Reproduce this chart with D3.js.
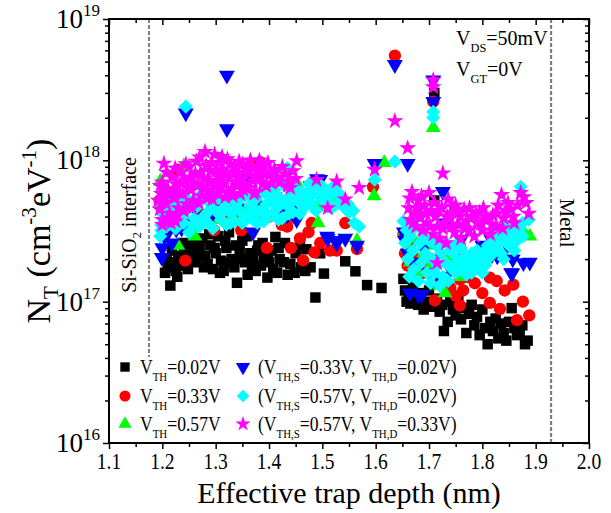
<!DOCTYPE html>
<html>
<head>
<meta charset="utf-8">
<script src="https://cdn.jsdelivr.net/npm/d3@7"></script>
<style>
  body { margin: 0; background: #fff; }
  svg { display: block; font-family: "Liberation Serif", "Times New Roman", serif; }
</style>
</head>
<body>
<svg id="chart" width="611" height="513"></svg>
<script>
// each point: [effective trap depth (nm), N_T in units of 1e17 cm^-3 eV^-1]
const vth002 = [
  [1.205,1.6],[1.21,1.75],[1.215,1.3],[1.22,1.9],[1.225,1.65],[1.23,2.1],[1.235,1.8],[1.24,2.2],
  [1.245,2.5],[1.25,2.0],[1.255,2.3],[1.26,2.6],[1.265,1.9],[1.27,2.4],[1.275,2.8],[1.28,2.1],
  [1.285,1.85],[1.29,2.5],[1.295,1.7],[1.30,2.2],[1.305,2.9],[1.31,1.95],[1.315,1.65],[1.32,2.4],
  [1.325,3.1],[1.33,2.0],[1.335,1.75],[1.34,1.36],[1.345,2.3],[1.35,2.7],[1.355,1.9],[1.36,1.55],
  [1.365,2.2],[1.37,2.0],[1.375,1.65],[1.38,2.5],[1.385,1.8],[1.39,2.1],[1.397,1.48],[1.40,1.9],
  [1.405,2.3],[1.412,2.87],[1.415,1.6],[1.42,2.0],[1.43,2.6],[1.435,1.55],[1.44,1.85],[1.45,2.2],
  [1.46,1.75],[1.47,2.35],[1.478,1.75],[1.487,1.07],[1.496,2.2],[1.503,1.58],[1.52,2.3],
  [1.543,1.93],[1.562,1.64],[1.584,1.31],[1.611,1.25],
  [1.208,2.0],[1.218,2.3],[1.228,1.5],[1.238,2.6],[1.248,1.7],[1.258,2.8],[1.268,2.2],[1.278,1.75],
  [1.288,3.0],[1.298,2.4],[1.308,1.6],[1.318,2.7],[1.328,1.9],[1.338,2.5],[1.348,2.0],[1.358,2.9],
  [1.368,1.75],[1.378,2.3],[1.388,2.6],[1.398,2.2],[1.408,1.7],[1.418,2.4],[1.428,1.9],[1.448,1.6],
  [1.458,2.5],[1.468,1.65],
  [1.652,1.45],[1.655,1.2],[1.658,1.0],[1.662,1.1],[1.665,0.97],[1.67,1.3],[1.675,1.05],[1.68,0.95],
  [1.685,1.15],[1.69,0.88],[1.695,1.0],[1.70,1.2],[1.705,0.92],[1.71,5.2],[1.71,30],[1.715,1.05],
  [1.72,0.85],[1.725,0.95],[1.728,0.62],[1.735,0.72],[1.74,1.0],[1.745,0.88],[1.75,0.8],[1.755,1.05],
  [1.76,0.75],[1.765,0.9],[1.77,0.6],[1.775,0.82],[1.78,0.95],[1.785,0.68],[1.79,0.78],[1.795,0.58],
  [1.80,0.88],[1.805,0.65],[1.81,0.5],[1.815,0.72],[1.82,0.62],[1.825,0.76],[1.83,0.55],[1.835,0.7],
  [1.84,0.6],[1.845,0.53],[1.85,0.72],[1.855,0.9],[1.86,0.65],[1.865,0.58],[1.87,0.6],[1.875,0.68],
  [1.88,0.5],[1.885,0.53]
];
const vth033 = [
  [1.195,5.2],[1.20,4.4],[1.205,6.0],[1.21,3.8],[1.215,5.5],[1.22,4.0],[1.25,4.8],[1.27,4.2],
  [1.30,4.6],[1.32,3.9],[1.35,4.3],[1.38,3.8],[1.40,4.0],[1.42,4.5],[1.45,3.9],[1.48,3.6],
  [1.229,8.6],[1.243,1.95],[1.297,3.2],[1.348,3.2],[1.383,9.7],[1.396,2.4],[1.424,3.5],[1.434,3.4],
  [1.441,2.4],[1.458,2.8],[1.464,1.96],[1.474,3.1],[1.485,2.23],[1.496,2.6],[1.514,2.3],[1.527,2.3],
  [1.543,3.6],[1.565,2.36],[1.595,6.5],[1.636,55],[1.708,26],
  [1.652,3.0],[1.655,2.2],[1.66,1.8],[1.665,2.6],[1.67,1.5],[1.68,2.0],[1.69,1.6],[1.70,1.9],
  [1.711,1.02],[1.72,1.4],[1.73,1.3],[1.74,1.25],[1.75,1.1],[1.758,1.43],[1.758,0.94],[1.764,1.2],
  [1.773,1.49],[1.786,1.35],[1.80,1.15],[1.814,1.48],[1.814,0.98],[1.827,1.4],[1.833,0.89],
  [1.842,1.2],[1.858,1.32],[1.865,0.74],[1.876,1.0],[1.888,0.8]
];
const vth057 = [
  [1.20,5.0],[1.21,6.0],[1.23,4.4],[1.26,5.2],[1.29,4.6],[1.32,5.4],[1.35,4.4],[1.38,5.0],
  [1.42,4.8],[1.44,5.8],[1.47,5.2],[1.50,5.8],
  [1.196,7.1],[1.229,2.5],[1.24,9.1],[1.261,2.9],[1.277,3.6],[1.306,3.8],[1.327,3.8],[1.335,3.9],
  [1.386,4.3],[1.401,8.0],[1.452,6.9],[1.49,4.7],[1.492,3.6],[1.518,5.6],[1.524,5.5],[1.532,5.3],
  [1.565,2.7],[1.597,5.6],[1.616,9.6],[1.708,17],
  [1.655,3.2],[1.66,2.4],[1.665,1.9],[1.67,2.8],[1.68,1.6],[1.69,2.2],[1.70,1.7],[1.71,2.5],
  [1.72,1.3],[1.73,1.15],[1.737,2.0],[1.75,2.4],[1.76,1.5],[1.77,1.9],[1.784,1.9],[1.80,2.3],
  [1.82,2.8],[1.828,3.1],[1.85,3.0],[1.871,3.1],[1.876,3.2],[1.889,2.9]
];
const vthS033D002 = [
  [1.244,21.6],[1.321,40],[1.321,16.7],[1.598,9.5],[1.636,47.5],[1.66,9.5],[1.708,37],[1.708,26],[1.726,6.0],
  [1.199,2.05],[1.20,2.4],[1.204,2.9],[1.211,3.1],[1.218,2.6],[1.226,3.25],[1.236,3.3],[1.25,3.6],
  [1.27,4.0],[1.295,4.2],[1.305,4.5],[1.32,5.0],[1.34,4.6],[1.364,7.5],[1.37,3.1],[1.372,5.3],
  [1.39,4.8],[1.41,5.5],[1.434,4.1],[1.437,4.2],[1.45,5.0],[1.452,3.8],[1.478,6.6],[1.49,7.4],
  [1.496,7.3],[1.509,2.9],[1.51,2.8],[1.525,2.7],[1.527,2.6],[1.543,2.8],[1.565,2.5],
  [1.653,3.1],[1.655,2.7],[1.66,2.2],[1.664,1.15],[1.67,1.9],[1.68,1.12],[1.686,1.12],[1.69,2.4],
  [1.70,1.6],[1.71,2.0],[1.72,1.5],[1.73,3.6],[1.74,1.7],[1.75,2.2],[1.76,2.75],[1.77,1.8],
  [1.781,1.7],[1.795,2.2],[1.80,2.5],[1.817,2.75],[1.818,2.15],[1.828,2.1],[1.847,2.5],[1.854,1.6],
  [1.856,1.59],[1.857,2.0],[1.877,1.88],[1.889,1.9]
];
const vthS057D002 = [
  [1.244,24],[1.598,7.3],[1.636,9.8],[1.708,22],[1.708,20],[1.872,6.5],[1.887,3.8],[1.876,2.9],
  [1.569,3.4],[1.547,4.4],[1.434,8.8],
  [1.196,2.9],[1.198,3.5],[1.20,4.2],[1.205,5.0],[1.21,3.8],[1.215,4.6],[1.22,5.6],[1.225,3.3],
  [1.23,4.0],[1.235,5.2],[1.24,3.6],[1.245,4.4],[1.25,3.1],[1.255,5.0],[1.26,3.9],[1.265,4.7],
  [1.27,3.4],[1.275,5.5],[1.28,4.1],[1.285,3.6],[1.29,4.9],[1.295,3.3],[1.30,4.4],[1.305,5.4],
  [1.31,3.8],[1.315,4.6],[1.32,3.5],[1.325,5.2],[1.33,4.2],[1.335,3.7],[1.34,5.0],[1.345,4.4],
  [1.35,3.6],[1.355,5.6],[1.36,4.0],[1.365,4.8],[1.37,3.8],[1.375,5.3],[1.38,4.3],[1.385,5.9],
  [1.39,3.7],[1.395,4.9],[1.40,5.6],[1.405,4.1],[1.41,6.2],[1.415,4.6],[1.42,5.4],[1.425,3.9],
  [1.43,6.6],[1.435,4.8],[1.44,5.6],[1.445,4.3],[1.45,6.3],[1.455,5.1],[1.46,6.0],[1.465,4.6],
  [1.47,5.4],[1.475,6.8],[1.48,4.9],[1.483,6.7],[1.49,5.8],[1.50,5.2],[1.505,6.2],[1.51,4.7],
  [1.515,5.6],[1.52,6.5],[1.53,5.0],[1.54,4.7],[1.55,4.3],[1.56,3.6],
  [1.198,3.2],[1.203,4.6],[1.208,3.4],[1.213,5.3],[1.218,4.1],[1.228,4.8],[1.238,4.1],[1.248,5.3],
  [1.258,3.5],[1.268,5.5],[1.278,3.8],[1.288,4.4],[1.298,5.7],[1.308,4.1],[1.318,5.2],[1.328,3.6],
  [1.338,4.6],[1.348,5.6],[1.358,3.9],[1.368,4.5],[1.378,3.6],[1.388,4.5],[1.398,4.0],[1.408,5.1],
  [1.418,3.8],[1.428,5.0],[1.438,4.2],[1.448,5.3],[1.458,4.2],[1.468,5.8],[1.478,5.6],[1.488,4.4],
  [1.498,6.6],[1.508,5.4],[1.518,4.6],[1.528,6.0],[1.538,5.4],[1.548,4.9],[1.558,4.4],
  [1.652,3.7],[1.655,2.6],[1.658,3.2],[1.66,2.0],[1.663,1.5],[1.665,2.9],[1.67,2.3],[1.672,1.7],
  [1.675,3.4],[1.68,1.4],[1.683,2.6],[1.686,1.9],[1.69,3.0],[1.693,2.2],[1.696,1.6],[1.70,2.7],
  [1.703,1.35],[1.706,2.0],[1.71,1.6],[1.713,2.5],[1.716,1.8],[1.72,1.3],[1.723,2.2],[1.726,1.5],
  [1.73,1.9],[1.733,2.6],[1.736,1.4],[1.74,1.75],[1.745,2.2],[1.75,1.6],[1.755,1.95],[1.76,2.4],
  [1.765,1.7],[1.77,2.1],[1.775,1.85],[1.78,1.6],[1.785,2.0],[1.79,1.75],[1.795,1.9],[1.80,2.2],
  [1.805,1.8],[1.81,2.5],[1.815,2.1],[1.82,2.8],[1.825,2.4],[1.83,3.1],[1.835,2.2],[1.84,2.8],
  [1.845,3.4],[1.85,2.5],[1.855,3.0],[1.86,3.6],[1.865,2.7],[1.87,3.3],
  [1.79,2.3],[1.80,1.6],[1.81,2.0],[1.82,2.2],[1.83,2.6],[1.84,2.0],[1.85,2.9],[1.86,2.3],
  [1.87,2.9],[1.875,3.6],[1.78,2.2],[1.77,1.55],[1.76,1.8],[1.75,2.5],[1.74,2.3]
];
const vthS057D033 = [
  [1.636,19],[1.66,12.2],[1.708,37],[1.708,33],[1.598,8.6],[1.569,6.4],[1.543,5.3],[1.527,7.1],
  [1.51,4.6],[1.489,7.3],[1.452,9.9],[1.437,7.1],[1.726,8.1],[1.715,1.88],
  [1.195,4.5],[1.198,5.8],[1.20,7.0],[1.203,9.5],[1.206,5.0],[1.21,6.3],[1.214,4.2],[1.218,7.6],
  [1.222,5.4],[1.226,6.8],[1.23,4.6],[1.234,8.2],[1.238,5.8],[1.242,7.2],[1.246,4.9],[1.25,9.0],
  [1.254,6.2],[1.258,5.2],[1.262,8.0],[1.266,6.6],[1.27,10.5],[1.274,5.6],[1.278,7.4],[1.282,9.2],
  [1.286,6.0],[1.29,8.4],[1.294,5.3],[1.298,11.0],[1.302,7.0],[1.306,9.6],[1.31,6.4],[1.314,8.6],
  [1.318,5.5],[1.322,10.2],[1.326,7.6],[1.33,6.2],[1.334,9.0],[1.338,7.0],[1.342,8.0],[1.346,5.8],
  [1.35,9.4],[1.355,6.8],[1.36,8.2],[1.365,10.0],[1.37,7.2],[1.375,6.0],[1.38,8.8],[1.385,7.6],
  [1.39,9.2],[1.395,6.6],[1.40,7.8],[1.41,8.6],[1.42,7.0],[1.43,8.0],[1.44,6.4],[1.45,7.4],
  [1.192,5.2],[1.196,6.6],[1.20,3.8],[1.208,8.2],[1.212,5.6],[1.216,3.6],[1.22,6.2],[1.224,8.8],
  [1.228,4.1],[1.232,5.9],[1.236,7.0],[1.24,4.4],[1.244,9.4],[1.248,6.4],[1.252,7.6],[1.256,4.6],
  [1.26,6.9],[1.264,9.8],[1.268,5.0],[1.272,8.2],[1.276,6.4],[1.28,11.5],[1.284,5.4],[1.288,7.2],
  [1.292,9.6],[1.296,6.6],[1.30,8.4],[1.304,5.8],[1.308,7.6],[1.312,10.6],[1.316,6.9],[1.32,8.0],
  [1.324,6.0],[1.328,9.4],[1.332,5.6],[1.336,8.2],[1.34,6.6],[1.344,9.8],[1.348,7.4],[1.352,6.2],
  [1.358,8.6],[1.362,6.4],[1.368,9.0],[1.372,5.8],[1.378,7.8],[1.382,10.0],[1.388,6.8],[1.392,8.2],
  [1.398,9.6],[1.405,6.9],[1.415,7.6],[1.425,9.0],[1.435,6.6],[1.445,8.4],
  [1.20,3.5],[1.21,3.9],[1.225,3.7],
  [1.662,4.6],[1.665,3.8],[1.668,6.0],[1.672,4.2],[1.676,3.4],[1.68,5.2],[1.684,4.0],[1.688,3.2],
  [1.692,4.8],[1.696,3.6],[1.70,5.9],[1.704,4.4],[1.708,3.0],[1.712,4.0],[1.716,3.4],[1.72,2.8],
  [1.724,4.6],[1.728,3.6],[1.732,2.6],[1.736,5.3],[1.74,3.9],[1.744,4.7],[1.748,3.1],[1.752,4.2],
  [1.756,3.5],[1.76,2.8],[1.766,4.5],[1.77,3.7],[1.775,3.2],[1.78,4.0],[1.785,2.9],[1.79,3.6],
  [1.795,4.3],[1.80,3.2],[1.802,4.6],[1.81,3.8],[1.815,3.0],[1.82,4.1],[1.825,3.4],[1.83,4.8],
  [1.836,5.7],[1.84,3.9],[1.845,4.4],[1.853,4.5],[1.86,3.6],[1.872,5.9],[1.878,5.5],[1.887,4.2],
  [1.664,5.4],[1.67,3.6],[1.678,4.6],[1.686,5.6],[1.694,4.2],[1.702,3.4],[1.71,5.0],[1.718,4.4],
  [1.726,3.3],[1.734,4.0],[1.742,3.4],[1.75,4.8],[1.758,4.0],[1.768,3.3],[1.776,4.6],[1.788,4.2],
  [1.798,3.6],[1.806,4.0],[1.818,3.5],[1.828,4.2],[1.838,3.3],[1.848,5.0],[1.858,4.0],[1.866,4.8],
  [1.882,5.0]
];

const xTicks = [1.1, 1.2, 1.3, 1.4, 1.5, 1.6, 1.7, 1.8, 1.9, 2.0];
const xLabels = ["1.1", "1.2", "1.3", "1.4", "1.5", "1.6", "1.7", "1.8", "1.9", "2.0"];
const yExponents = [16, 17, 18, 19];

// legend texts: [text, "n" | "sub"]
const legendTexts = [
  [["V","n"],["TH","sub"],["=0.02V","n"]],
  [["V","n"],["TH","sub"],["=0.33V","n"]],
  [["V","n"],["TH","sub"],["=0.57V","n"]],
  [["(V","n"],["TH,S","sub"],["=0.33V, V","n"],["TH,D","sub"],["=0.02V)","n"]],
  [["(V","n"],["TH,S","sub"],["=0.57V, V","n"],["TH,D","sub"],["=0.02V)","n"]],
  [["(V","n"],["TH,S","sub"],["=0.57V, V","n"],["TH,D","sub"],["=0.33V)","n"]]
];

// Plot frame
let margin = {top: 19, right: 22, bottom: 70, left: 109};
let width = 611 - margin.left - margin.right;
let height = 513 - margin.top - margin.bottom;

let x = d3.scaleLinear().domain([1.1, 2.0]).range([margin.left, margin.left + width]);
let y = d3.scaleLog().domain([1e16, 1e19]).range([margin.top + height, margin.top]);

let svg = d3.select("#chart");

// series table built from the arrays above
let series = [
  {pts: vth002, color: "#000000", type: d3.symbolSquare, size: 110, rot: 0},
  {pts: vth033, color: "#ff0000", type: d3.symbolCircle, size: 120, rot: 0},
  {pts: vth057, color: "#00ff00", type: d3.symbolTriangle, size: 95, rot: 0},
  {pts: vthS033D002, color: "#0000ff", type: d3.symbolTriangle, size: 110, rot: 180},
  {pts: vthS057D002, color: "#00ffff", type: d3.symbolSquare, size: 100, rot: 45},
  {pts: vthS057D033, color: "#ff00ff", type: d3.symbolStar, size: 90, rot: 0}
];

// Dashed boundary lines
svg.append("line")
    .attr("x1", x(1.175)).attr("x2", x(1.175))
    .attr("y1", margin.top).attr("y2", 357)
    .attr("stroke", "#000").attr("stroke-width", 1)
    .attr("stroke-dasharray", "4,2");
svg.append("line")
    .attr("x1", x(1.929)).attr("x2", x(1.929))
    .attr("y1", margin.top).attr("y2", margin.top + height)
    .attr("stroke", "#777").attr("stroke-width", 2)
    .attr("stroke-dasharray", "4,2");

// Markers
series.forEach(function(s) {
  let sym = d3.symbol().type(s.type).size(s.size);
  svg.append("g").selectAll("path")
      .data(s.pts)
      .enter()
      .append("path")
      .attr("d", sym)
      .attr("fill", s.color)
      .attr("transform", d => "translate(" + x(d[0]) + "," + y(d[1] * 1e17) + ") rotate(" + s.rot + ")");
});

// Axes
let xMinor = xTicks.slice(0, -1).map(t => t + 0.05);
let yMajor = yExponents.map(e => Math.pow(10, e));
let yMinor = [];
yExponents.slice(0, -1).forEach(function(e) {
  for (let k = 2; k <= 9; k++) yMinor.push(k * Math.pow(10, e));
});

function styleAxis(g) {
  g.select(".domain").remove();
  g.selectAll("line").attr("stroke", "#000").attr("stroke-width", 1.5);
  g.selectAll("text").remove();
}
let bottom = margin.top + height, right = margin.left + width;
svg.append("g").attr("transform", "translate(0," + bottom + ")")
    .call(d3.axisBottom(x).tickValues(xTicks).tickSize(6)).call(styleAxis);
svg.append("g").attr("transform", "translate(0," + bottom + ")")
    .call(d3.axisBottom(x).tickValues(xMinor).tickSize(4)).call(styleAxis);
svg.append("g").attr("transform", "translate(0," + margin.top + ")")
    .call(d3.axisTop(x).tickValues(xTicks).tickSize(-6)).call(styleAxis);
svg.append("g").attr("transform", "translate(0," + margin.top + ")")
    .call(d3.axisTop(x).tickValues(xMinor).tickSize(-4)).call(styleAxis);
svg.append("g").attr("transform", "translate(" + margin.left + ",0)")
    .call(d3.axisLeft(y).tickValues(yMajor).tickSize(6)).call(styleAxis);
svg.append("g").attr("transform", "translate(" + margin.left + ",0)")
    .call(d3.axisLeft(y).tickValues(yMinor).tickSize(4)).call(styleAxis);
svg.append("g").attr("transform", "translate(" + right + ",0)")
    .call(d3.axisRight(y).tickValues(yMajor).tickSize(-6)).call(styleAxis);
svg.append("g").attr("transform", "translate(" + right + ",0)")
    .call(d3.axisRight(y).tickValues(yMinor).tickSize(-4)).call(styleAxis);

svg.append("rect")
    .attr("x", margin.left).attr("y", margin.top)
    .attr("width", width).attr("height", height)
    .attr("fill", "none").attr("stroke", "#000").attr("stroke-width", 2);

// tick labels
svg.append("g").selectAll("text")
    .data(xTicks)
    .enter()
    .append("text")
    .attr("transform", d => "translate(" + x(d) + "," + (bottom + 26) + ") scale(0.85,1)")
    .attr("text-anchor", "middle")
    .attr("font-size", 23)
    .text((d, i) => xLabels[i]);

let yLab = svg.append("g").selectAll("text")
    .data(yExponents)
    .enter()
    .append("text")
    .attr("x", margin.left - 9)
    .attr("y", d => y(Math.pow(10, d)) + 9)
    .attr("text-anchor", "end");
yLab.append("tspan").attr("font-size", 27).text("10");
yLab.append("tspan").attr("font-size", 17).attr("dy", -12).text(d => d);

// rich text helper: parts of [text, "n" | "sub" | "sup"]
function rich(sel, parts, size, subDy, supDy) {
  let shift = 0;
  parts.forEach(function(p) {
    let target = p[1] === "sub" ? subDy : p[1] === "sup" ? -supDy : 0;
    sel.append("tspan")
        .attr("dy", target - shift)
        .attr("font-size", p[1] === "n" ? size : size * 0.62)
        .text(p[0]);
    shift = target;
  });
}

// axis titles
svg.append("text")
    .attr("x", margin.left + width / 2).attr("y", 503)
    .attr("text-anchor", "middle").attr("font-size", 30)
    .text("Effective trap depth (nm)");

let yTitle = svg.append("text")
    .attr("transform", "translate(50," + (margin.top + height / 2) + ") rotate(-90)")
    .attr("text-anchor", "middle");
rich(yTitle, [["N","n"],["T","sub"],[" (cm","n"],["-3","sup"],["eV","n"],["-1","sup"],[")","n"]], 34, 8, 14);

// annotations
let si = svg.append("text")
    .attr("transform", "translate(136,225) rotate(-90)")
    .attr("text-anchor", "middle");
rich(si, [["Si-SiO","n"],["2","sub"],[" interface","n"]], 20, 5, 0);

svg.append("text")
    .attr("transform", "translate(560,223) rotate(90)")
    .attr("text-anchor", "middle").attr("font-size", 21)
    .text("Metal");

let vds = svg.append("text").attr("x", 456).attr("y", 45);
rich(vds, [["V","n"],["DS","sub"],["=50mV","n"]], 20, 7, 0);
let vgt = svg.append("text").attr("x", 456).attr("y", 76);
rich(vgt, [["V","n"],["GT","sub"],["=0V","n"]], 20, 7, 0);

// legend
let legendPos = [[125, 367], [125, 396], [125, 424], [243, 367], [243, 396], [243, 424]];
series.forEach(function(s, i) {
  let p = legendPos[i];
  let sym = d3.symbol().type(s.type).size(s.size * 0.8);
  svg.append("path")
      .attr("d", sym)
      .attr("fill", s.color)
      .attr("transform", "translate(" + p[0] + "," + p[1] + ") rotate(" + s.rot + ")");
  let t = svg.append("text")
      .attr("transform", "translate(" + (p[0] + 15) + "," + (p[1] + 7) + ") scale(0.88,1)");
  rich(t, legendTexts[i], 20, 7, 0);
});
</script>
</body>
</html>
